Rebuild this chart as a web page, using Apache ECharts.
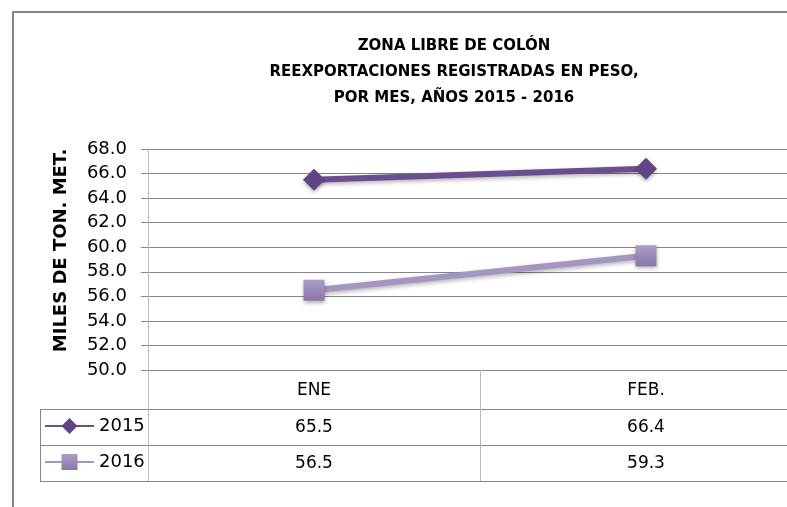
<!DOCTYPE html>
<html>
<head>
<meta charset="utf-8">
<script src="https://cdn.jsdelivr.net/npm/echarts@6/dist/echarts.min.js"></script>
<style>
html, body { margin: 0; background: #fff; }
#cht { width: 787px; height: 507px; }
</style>
</head>
<body>
<div id="cht"></div>
<script>
// data
var categories = ['ENE', 'FEB.'];
var seriesNames = ['2015', '2016'];
var values2015 = [65.5, 66.4];
var values2016 = [56.5, 59.3];
var yMin = 50, yMax = 68, yStep = 2;

var FONT = 'DejaVu Sans';
var GRID = '#868686';
var LIGHT = '#b8b8b8';
var headH = 39, rowH = 36;

var config = {
    animation: false,
    title: {
        text: 'ZONA LIBRE DE COLÓN\nREEXPORTACIONES REGISTRADAS EN PESO,\nPOR MES, AÑOS 2015 - 2016',
        left: 449,
        top: 28,
        textAlign: 'center',
        textStyle: { fontFamily: FONT, fontSize: 15, fontWeight: 'bold', color: '#000', lineHeight: 26 }
    },
    legend: {
        data: seriesNames,
        orient: 'vertical',
        left: 44,
        top: 416,
        padding: 0,
        itemWidth: 49,
        itemHeight: 20,
        itemGap: 16,
        textStyle: { fontFamily: FONT, fontSize: 18, color: '#000', lineHeight: 20 }
    },
    grid: { left: 148, width: 664, top: 149, bottom: 137, containLabel: false, outerBoundsMode: 'none' },
    xAxis: {
        type: 'category',
        data: categories,
        boundaryGap: true,
        axisLine: { lineStyle: { color: GRID } },
        axisTick: { show: true, interval: 0, length: headH + 2 * rowH, lineStyle: { color: LIGHT } },
        axisLabel: { margin: 12, fontFamily: FONT, fontSize: 17, color: '#000' }
    },
    yAxis: {
        type: 'value',
        min: yMin,
        max: yMax,
        interval: yStep,
        name: 'MILES DE TON. MET.',
        nameLocation: 'middle',
        nameRotate: 90,
        nameGap: 78,
        nameTextStyle: { fontFamily: FONT, fontSize: 18, fontWeight: 'bold', color: '#000', padding: [0, 0, 0, 18] },
        axisLine: { show: true, lineStyle: { color: LIGHT } },
        axisTick: { show: true, length: 7, lineStyle: { color: GRID } },
        axisLabel: {
            margin: 21, fontFamily: FONT, fontSize: 18, color: '#000',
            formatter: function (v) { return v.toFixed(1); }
        },
        splitLine: { lineStyle: { color: GRID } }
    },
    series: [
        {
            name: seriesNames[0],
            type: 'line',
            data: values2015,
            symbol: 'diamond',
            symbolSize: [22, 22],
            lineStyle: { width: 6, color: '#6a4e90', shadowColor: 'rgba(0,0,0,0.3)', shadowBlur: 4, shadowOffsetY: 2 },
            itemStyle: { color: '#5f4486', shadowColor: 'rgba(0,0,0,0.3)', shadowBlur: 4, shadowOffsetY: 2 }
        },
        {
            name: seriesNames[1],
            type: 'line',
            data: values2016,
            symbol: 'rect',
            symbolSize: 21,
            lineStyle: { width: 6, color: '#a596c1', shadowColor: 'rgba(0,0,0,0.3)', shadowBlur: 4, shadowOffsetY: 2 },
            itemStyle: {
                color: new echarts.graphic.LinearGradient(0, 0, 0, 1, [
                    { offset: 0, color: '#aa9cc7' },
                    { offset: 1, color: '#8a78a8' }
                ]),
                shadowColor: 'rgba(0,0,0,0.3)', shadowBlur: 4, shadowOffsetY: 2
            }
        }
    ]
};

window.onload = function () {
    var myChart = echarts.init(document.getElementById('cht'));
    myChart.setOption(config);

    // data table under the axis
    var y0 = myChart.convertToPixel({ yAxisIndex: 0 }, yMin);
    var cx = categories.map(function (c) { return myChart.convertToPixel({ xAxisIndex: 0 }, c); });
    var half = (cx[1] - cx[0]) / 2;
    var xRight = cx[cx.length - 1] + half;
    var tLeft = 40;
    var r1 = y0 + headH, r2 = r1 + rowH, r3 = r2 + rowH;
    var els = [];
    [r1, r2, r3].forEach(function (y) {
        els.push({ type: 'line', shape: { x1: tLeft, y1: y + 0.5, x2: xRight, y2: y + 0.5 }, style: { stroke: GRID, lineWidth: 1 } });
    });
    els.push({ type: 'line', shape: { x1: tLeft + 0.5, y1: r1, x2: tLeft + 0.5, y2: r3 }, style: { stroke: GRID, lineWidth: 1 } });
    [values2015, values2016].forEach(function (vals, i) {
        vals.forEach(function (v, j) {
            els.push({
                type: 'text', x: cx[j], y: r1 + rowH * i + rowH / 2 + 1,
                style: { text: v.toFixed(1), fill: '#000', font: '17px "' + FONT + '"', align: 'center', verticalAlign: 'middle' }
            });
        });
    });
    // outer chart frame
    els.push({ type: 'rect', shape: { x: 13, y: 12, width: 820, height: 540 }, style: { fill: 'none', stroke: GRID, lineWidth: 2 } });
    myChart.setOption({ graphic: { elements: els } });
};
</script>
</body>
</html>
